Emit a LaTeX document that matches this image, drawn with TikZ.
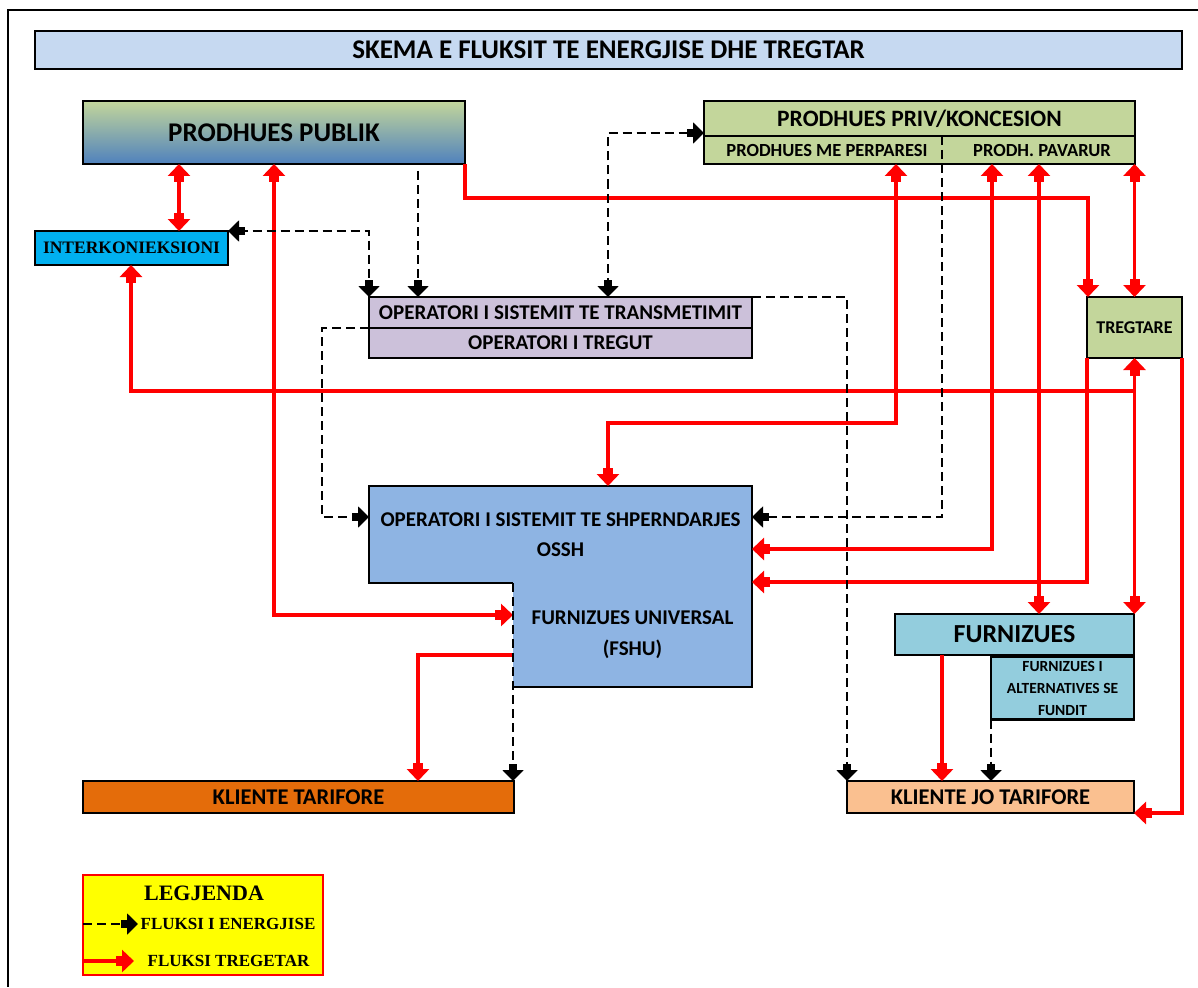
\documentclass[tikz,border=0pt]{standalone}
\usepackage{fontspec}
\setmainfont{Carlito}
\newfontfamily\serifbold{Liberation Serif}
\usetikzlibrary{arrows.meta}
\definecolor{titlefill}{HTML}{C6D9F1}
\definecolor{greenfill}{HTML}{C3D69B}
\definecolor{ppbot}{HTML}{4F81BD}
\definecolor{ostfill}{HTML}{CCC1DA}
\definecolor{osshfill}{HTML}{8EB4E3}
\definecolor{interkfill}{HTML}{00B0F0}
\definecolor{furnfill}{HTML}{93CDDD}
\definecolor{ktfill}{HTML}{E46C0A}
\definecolor{kjtfill}{HTML}{FAC090}
\definecolor{legfill}{HTML}{FFFF00}
\definecolor{flowred}{HTML}{FF0000}
\newcommand\bfsize[2]{\fontsize{#1}{#2}\selectfont\bfseries}
\begin{document}
\begin{tikzpicture}[x=1pt,y=-1pt,
  box/.style={draw=black, line width=2.6pt, inner sep=0pt, outer sep=0pt, align=center},
  plain/.style={inner sep=0pt, outer sep=0pt, align=center},
  tflow/.style={draw=flowred, line width=3.4pt},
  tend/.style={-{Rectangle[width=10pt,length=6pt]Triangle[width=22pt,length=12pt]}},
  tboth/.style={{Triangle[width=22pt,length=12pt]Rectangle[width=10pt,length=6pt]}-{Rectangle[width=10pt,length=6pt]Triangle[width=22pt,length=12pt]}},
  eflow/.style={draw=black, line width=2pt, dash pattern=on 9pt off 5pt},
  eend/.style={-{Rectangle[width=8pt,length=6pt]Triangle[width=21pt,length=11pt]}},
  eboth/.style={{Triangle[width=21pt,length=11pt]Rectangle[width=8pt,length=6pt]}-{Rectangle[width=8pt,length=6pt]Triangle[width=21pt,length=11pt]}}]
\useasboundingbox (0,0) rectangle (1198,987);
% frame
\draw[line width=2.6pt] (1198,10) -- (8,10) -- (8,987);
% boxes
\node[box, fill=titlefill, line width=2.8pt, minimum width=1147pt, minimum height=38pt, font=\bfsize{27}{30}] (title) at (608.5,50) {SKEMA E FLUKSIT TE ENERGJISE DHE TREGTAR};
\node[box, top color=greenfill, bottom color=ppbot, minimum width=382pt, minimum height=63pt, font=\bfsize{27}{32}] (pp) at (274,132.5) {PRODHUES PUBLIK};
\node[box, fill=interkfill, minimum width=193pt, minimum height=34pt, font=\serifbold\bfsize{17.5}{20}] (interk) at (131.5,248) {INTERKONIEKSIONI};
\node[box, fill=greenfill, minimum width=431pt, minimum height=35pt, font=\bfsize{23.5}{27}] (privtop) at (919.5,118.5) {PRODHUES PRIV/KONCESION};
\node[box, fill=greenfill, minimum width=431pt, minimum height=28pt] (privbot) at (919.5,150) {};
\node[plain, font=\bfsize{18.5}{22}] (perp) at (827,151) {PRODHUES ME PERPARESI};
\node[plain, font=\bfsize{18.5}{22}] (pav) at (1042,151) {PRODH. PAVARUR};
\node[box, fill=ostfill, minimum width=383pt, minimum height=31pt, font=\bfsize{21}{25}] (osttop) at (560.5,312.5) {OPERATORI I SISTEMIT TE TRANSMETIMIT};
\node[box, fill=ostfill, minimum width=383pt, minimum height=30pt, font=\bfsize{21}{25}] (ostbot) at (560.5,343) {OPERATORI I TREGUT};
\node[box, fill=greenfill, minimum width=95pt, minimum height=61pt, font=\bfsize{18}{21}] (tregtare) at (1134.5,327.5) {TREGTARE};
\node[plain, fill=osshfill, minimum width=383pt, minimum height=97pt, font=\bfsize{21}{30}] (ossh) at (560.5,534.5) {OPERATORI I SISTEMIT TE SHPERNDARJES\\OSSH};
\node[plain, fill=osshfill, minimum width=239pt, minimum height=104pt, font=\bfsize{21}{31}] (fshu) at (632.5,635) {FURNIZUES UNIVERSAL\\(FSHU)};
\draw[line width=2.6pt] (fshu.north west) -- (ossh.south west) -- (ossh.north west) -- (ossh.north east) -- (fshu.south east) -- (fshu.south west);
\node[box, fill=furnfill, minimum width=239pt, minimum height=41pt, font=\bfsize{26}{30}] (furn) at (1014.5,634.5) {FURNIZUES};
\node[box, fill=furnfill, minimum width=143pt, minimum height=63pt, font=\bfsize{15.5}{22}] (alt) at (1062.5,688) {FURNIZUES I\\ALTERNATIVES SE\\FUNDIT};
\node[box, fill=ktfill, minimum width=431pt, minimum height=32pt, font=\bfsize{22.5}{26}] (kt) at (298.5,797) {KLIENTE TARIFORE};
\node[box, fill=kjtfill, minimum width=287pt, minimum height=32pt, font=\bfsize{22.5}{26}] (kjt) at (990.5,797) {KLIENTE JO TARIFORE};
% legend
\node[draw=flowred, line width=2pt, fill=legfill, minimum width=240pt, minimum height=100pt, inner sep=0pt] (legend) at (203,925) {};
\node[plain, font=\serifbold\bfsize{22}{26}] (legtitle) at (204,893) {LEGJENDA};
\node[plain, font=\serifbold\bfsize{17}{20}] (legE) at (228,924) {FLUKSI I ENERGJISE};
\node[plain, font=\serifbold\bfsize{17}{20}] (legT) at (228.5,961) {FLUKSI TREGETAR};
\coordinate (leA) at (83,924); \coordinate (leB) at (138,924);
\draw[eflow,eend] (leA) -- (leB);
\coordinate (ltA) at (83,961); \coordinate (ltB) at (134,961);
\draw[tflow,tend] (ltA) -- (ltB);
% commercial flows (red)
\draw[tflow,tboth] (pp.south -| 179,0) -- (interk.north -| 179,0);
\draw[tflow,tboth] (pp.south -| 274,0) |- (fshu.west |- 0,615);
\draw[tflow,tend] (pp.south east) -- (pp.south east |- 0,198) -| (tregtare.north -| 1088,0);
\coordinate (j1) at (1134.5,391);
\draw[tflow,tboth] (tregtare.south) -- (furn.north -| tregtare.south);
\draw[tflow,tend] (j1) -| (interk.south -| 131,0);
\draw[tflow,tboth] (privbot.south -| 896,0) -- (896,423) -| (ossh.north -| 608,0);
\draw[tflow,tboth] (privbot.south -| 992,0) |- (ossh.east |- 0,549);
\draw[tflow,tboth] (privbot.south -| 1039,0) -- (furn.north -| 1039,0);
\draw[tflow,tboth] (privbot.south -| tregtare.north) -- (tregtare.north);
\draw[tflow,tend] (tregtare.south west) |- (ossh.east |- 0,582);
\draw[tflow,tend] (tregtare.south east) |- (kjt.south east);
\draw[tflow,tend] (fshu.west |- 0,655) -| (kt.north -| 418,0);
\draw[tflow,tend] (furn.south -| 942,0) -- (kjt.north -| 942,0);
% energy flows (dashed)
\draw[eflow,eboth] (osttop.north -| 608,0) |- (privtop.west |- 0,133);
\draw[eflow,eboth] (interk.north east) -| (osttop.north west);
\coordinate (ppd) at ([yshift=-7pt]pp.south);
\draw[eflow,eend] (ppd -| 418,0) -- (osttop.north -| 418,0);
\draw[eflow,eend] (ostbot.north west) -- ++(-47,0) |- (ossh.west |- 0,517);
\draw[eflow,eend] (osttop.north east) -| (kjt.north west);
\draw[eflow,eend] (privtop.south -| 942,0) |- (ossh.east |- 0,517);
\draw[eflow,eend] (fshu.north west) -- (kt.north -| fshu.west);
\draw[eflow,eend] (alt.south west) -- (kjt.north -| alt.west);
\end{tikzpicture}
\end{document}
